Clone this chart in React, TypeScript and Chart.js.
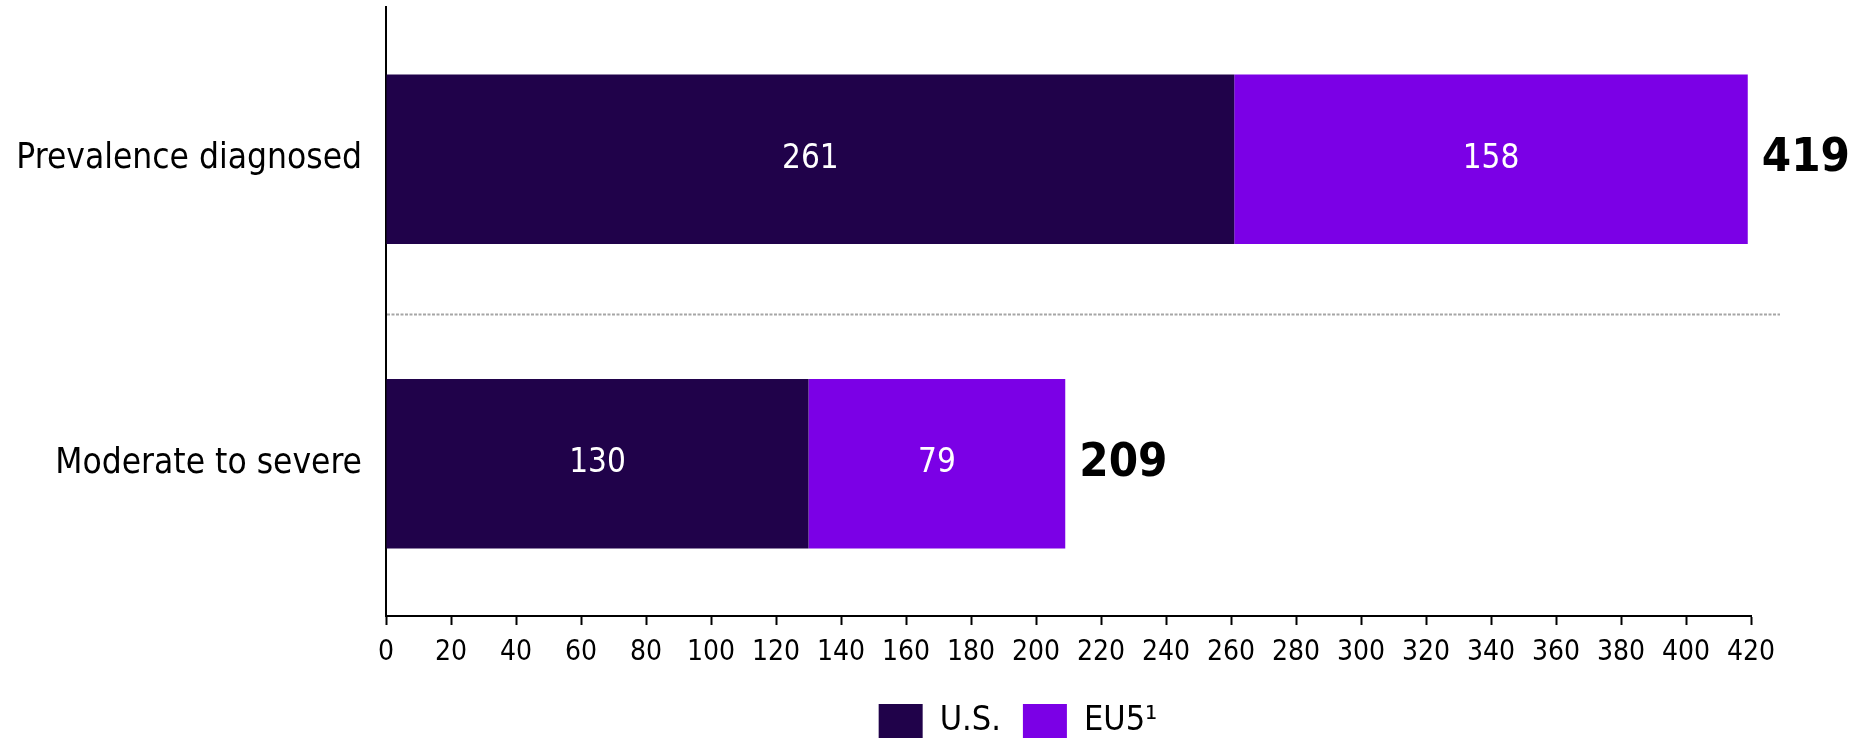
import React, { useEffect, useRef } from "react";
import { Chart, registerables } from "chart.js";

Chart.register(...registerables);

const categories = ["Prevalence diagnosed", "Moderate to severe"];
const usValues = [261, 130];
const eu5Values = [158, 79];
const seriesLabels = ["U.S.", "EU5\u00B9"];
const seriesColors = ["#20024A", "#7B00E6"];
const xMin = 0;
const xMax = 420;
const xStep = 20;

const FONT = "'DejaVu Sans Condensed', 'DejaVu Sans', sans-serif";
const AXIS_X = 386;
const LEGEND_SHIFT = 285;

const labelsPlugin = {
  id: "barLabels",
  afterDatasetsDraw(chart: any) {
    const ctx = chart.ctx;
    const n = chart.data.datasets.length;
    ctx.save();
    chart.data.datasets.forEach((ds: any, di: number) => {
      const meta = chart.getDatasetMeta(di);
      meta.data.forEach((bar: any, i: number) => {
        const cx = (bar.x + bar.base) / 2;
        ctx.fillStyle = "#ffffff";
        ctx.font = `33px ${FONT}`;
        ctx.textAlign = "center";
        ctx.textBaseline = "middle";
        ctx.fillText(String(ds.data[i]), cx, bar.y);
        if (di === n - 1) {
          let total = 0;
          chart.data.datasets.forEach((d: any) => (total += d.data[i]));
          ctx.fillStyle = "#000000";
          ctx.font = `bold 47px ${FONT}`;
          ctx.textAlign = "left";
          ctx.fillText(String(total), bar.x + 14, bar.y);
        }
      });
    });
    ctx.restore();
  },
};

const separatorPlugin = {
  id: "separator",
  beforeDatasetsDraw(chart: any) {
    const ctx = chart.ctx;
    const y = chart.scales.y.getPixelForValue(0.5) + 3;
    ctx.save();
    ctx.strokeStyle = "#a6a6a6";
    ctx.lineWidth = 2;
    ctx.setLineDash([3, 1.5]);
    ctx.beginPath();
    ctx.moveTo(chart.chartArea.left + 1, y);
    ctx.lineTo(chart.chartArea.right + 29, y);
    ctx.stroke();
    ctx.restore();
  },
};

const legendShiftPlugin = {
  id: "legendShift",
  afterLayout(chart: any) {
    if (chart.legend) {
      chart.legend.left += LEGEND_SHIFT;
    }
  },
};

export default function App() {
  const ref = useRef<HTMLCanvasElement | null>(null);
  useEffect(() => {
    if (!ref.current) return;
    const chart = new Chart(ref.current, {
      type: "bar",
      data: {
        labels: categories,
        datasets: [
          {
            label: seriesLabels[0],
            data: usValues,
            backgroundColor: seriesColors[0],
            borderWidth: 0,
            categoryPercentage: 1,
            barPercentage: 0.557,
          },
          {
            label: seriesLabels[1],
            data: eu5Values,
            backgroundColor: seriesColors[1],
            borderWidth: 0,
            categoryPercentage: 1,
            barPercentage: 0.557,
          },
        ],
      },
      options: {
        indexAxis: "y",
        animation: false,
        responsive: false,
        maintainAspectRatio: false,
        layout: { padding: { left: 0, right: 104, top: 7, bottom: -8 } },
        scales: {
          x: {
            stacked: true,
            min: xMin,
            max: xMax,
            ticks: {
              stepSize: xStep,
              color: "#000",
              font: { family: FONT, size: 28 },
              padding: 11,
              maxRotation: 0,
              autoSkip: false,
            },
            grid: {
              drawOnChartArea: false,
              drawTicks: true,
              tickLength: 9,
              tickColor: "#000",
              tickWidth: 2,
            },
            border: { display: true, color: "#000", width: 2 },
            afterFit(s: any) {
              s.height = 66;
              s.paddingLeft = 0;
              s.paddingRight = 0;
            },
          },
          y: {
            stacked: true,
            ticks: {
              color: "#000",
              font: { family: FONT, size: 35 },
              padding: 24,
            },
            grid: { drawOnChartArea: false, drawTicks: false },
            border: { display: true, color: "#000", width: 2 },
            afterFit(s: any) {
              s.width = AXIS_X;
              s.paddingTop = 0;
              s.paddingBottom = 0;
            },
          },
        },
        plugins: {
          legend: {
            position: "bottom",
            labels: {
              color: "#000",
              font: { family: FONT, size: 34 },
              boxWidth: 44,
              boxHeight: 34,
              padding: 22,
            },
          },
          tooltip: { enabled: false },
        },
      },
      plugins: [separatorPlugin, labelsPlugin, legendShiftPlugin],
    });
    return () => chart.destroy();
  }, []);
  return (
    <div style={{ position: "absolute", left: 0, top: 0, width: 1855, height: 740, background: "#fff" }}>
      <canvas ref={ref} width={1855} height={740} style={{ width: 1855, height: 740 }} />
    </div>
  );
}
